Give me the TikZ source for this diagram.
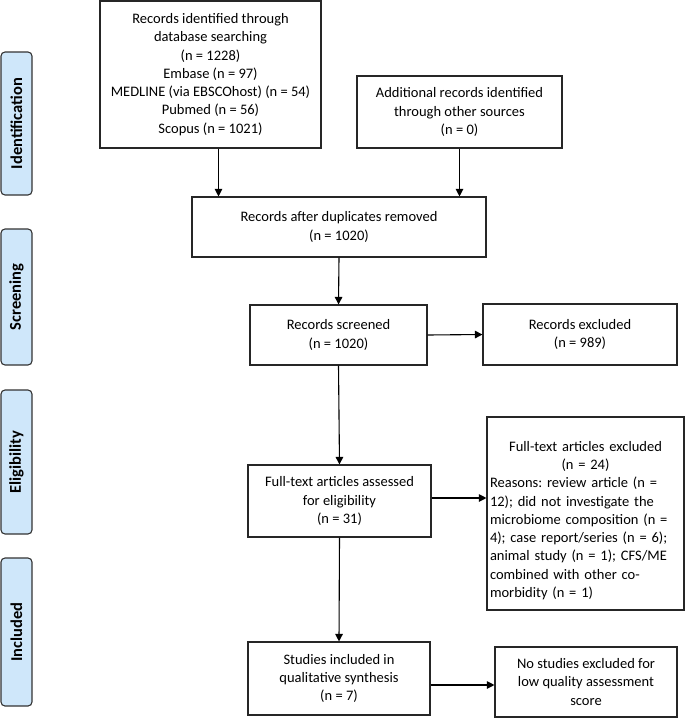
\documentclass[tikz,border=0pt]{standalone}
\usepackage{fontspec}
\setmainfont{Carlito}
\usetikzlibrary{arrows.meta}
\usepackage{xcolor}
\definecolor{stageblue}{RGB}{207,231,250}
\frenchspacing
\newcommand{\flowbox}[6] {
    \node[box,minimum width={#3pt},minimum height={#4pt}] (#5) at ({#1}, {#2}) {#6};
}
\tikzset{
    box/.style={
        draw=black!85,
        line width=1.1pt,
        align=center,
        inner sep=3pt,
        font=\fontsize{14.5}{18.3}\selectfont
    },
    stage/.style={
        draw=black!80,
        line width=1.1pt,
        rounded corners=4pt,
        fill=stageblue,
        rotate=90,
        minimum height=31pt,
        inner sep=0pt,
        font=\bfseries\fontsize{16.5}{18}\selectfont
    },
    arr/.style={
        line width=1.1pt,
        -{Triangle[length=7.5pt,width=7.5pt]}
    }
}

\begin{document}
\begin{tikzpicture}[x=1pt,y=-1pt]
    \useasboundingbox (0,0) rectangle (685,718);
    \foreach \yc/\len/\name in {
        123.5/143/Identification,
        297/136/Screening,
        462/144/Eligibility,
        632/148/Included
    }
        \node[stage,minimum width=\len pt] (\name) at (16.5,\yc) {\name};
    \flowbox{210.5}{74.5}{221}{147}{searched}{Records identified through\\database searching\\(n = 1228)\\Embase (n = 97)\\MEDLINE (via EBSCOhost) (n = 54)\\Pubmed (n = 56)\\Scopus (n = 1021)}
    \flowbox{459.5}{112}{205}{72}{other}{Additional records identified\\through other sources\\(n = 0)}
    \flowbox{339}{227}{294}{60}{nodup}{Records after duplicates removed\\(n = 1020)}
    \flowbox{338.5}{335}{177}{60}{screened}{Records screened\\(n = 1020)}
    \flowbox{580}{334.5}{194}{61}{excluded}{Records excluded\\(n = 989)}
    \flowbox{339.5}{501}{183}{72}{assessed}{Full-text articles assessed\\for eligibility\\(n = 31)}
    \node[box,minimum width=197pt,minimum height=193pt,text width=191pt,align=left] (ftexcl) at (585.5,513.5) {\centering\rule{0pt}{24pt}Full-text articles excluded\\(n = 24)\par\raggedright Reasons: review article (n =\\12); did not investigate the\\microbiome composition (n =\\4); case report/series (n = 6);\\animal study (n = 1); CFS/ME\\combined with other co-\\morbidity (n = 1)};
    \flowbox{339}{678.5}{182}{73}{included}{Studies included in\\qualitative synthesis\\(n = 7)}
    \flowbox{586}{682}{182}{70}{lowqual}{No studies excluded for\\low quality assessment\\score}

    \coordinate (aout) at ([xshift=8pt]searched.south);
    \coordinate (fout) at ([yshift=3pt]assessed.east);
    \coordinate (hout) at ([yshift=-6.5pt]included.east);
    \draw[arr] (aout) -- (aout |- nodup.north);
    \draw[arr] (other.south) -- (other.south |- nodup.north);
    \draw[arr] (nodup.south) -- (screened.north);
    \draw[arr] (screened.east) -- (excluded.west);
    \draw[arr] (screened.south) -- (assessed.north);
    \draw[arr] (fout) -- (fout -| ftexcl.west);
    \draw[arr] (assessed.south) -- (included.north);
    \draw[arr] (hout) -- (hout -| lowqual.west);
\end{tikzpicture}
\end{document}
